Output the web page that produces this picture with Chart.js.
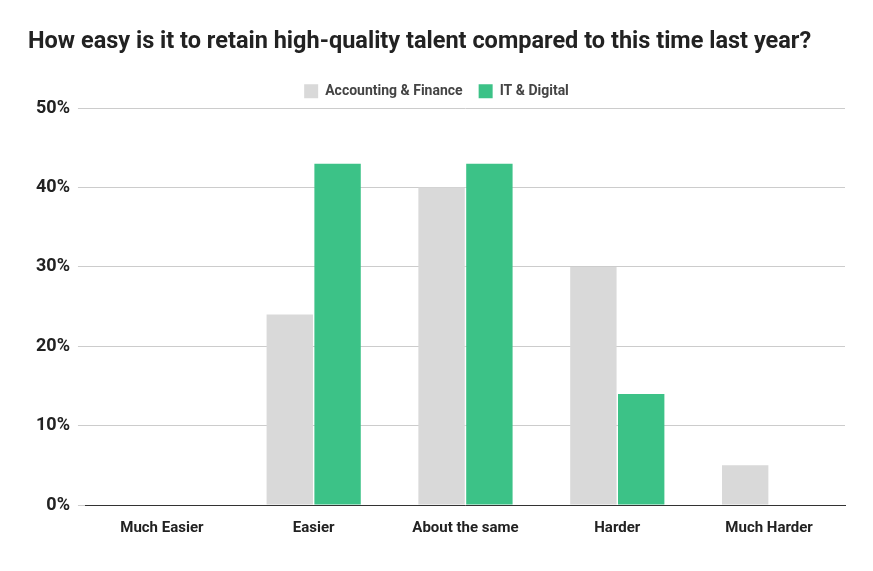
<!DOCTYPE html>
<html>
<head>
<meta charset="utf-8">
<script src="https://cdn.jsdelivr.net/npm/chart.js@4"></script>
<style>
  body { margin: 0; background: #fff; }
  #wrap { width: 873px; height: 571px; }
</style>
</head>
<body>
<div id="wrap"><canvas id="chart"></canvas></div>
<script>
// Values (percent)
var categories = ['Much Easier', 'Easier', 'About the same', 'Harder', 'Much Harder'];
var accountingFinance = [0, 24, 40, 30, 5];
var itDigital = [0, 43, 43, 14, 0];
var tickLabels = ['0%', '10%', '20%', '30%', '40%', '50%'];

Chart.defaults.font.family = 'Roboto';
Chart.defaults.font.weight = 'bold';
Chart.defaults.color = '#222';

var ctx = document.getElementById('chart').getContext('2d');
new Chart(ctx, {
    type: 'bar',
    data: {
        labels: categories,
        datasets: [{
            label: 'Accounting & Finance',
            data: accountingFinance,
            backgroundColor: '#d9d9d9'
        }, {
            label: 'IT & Digital',
            data: itDigital,
            backgroundColor: '#3cc287'
        }]
    },
    options: {
        responsive: true,
        maintainAspectRatio: false,
        animation: false,
        layout: { padding: { left: 28, right: 28, top: 28, bottom: 28 } },
        datasets: { bar: { categoryPercentage: 0.63, barPercentage: 0.97 } },
        plugins: {
            title: {
                display: true,
                text: 'How easy is it to retain high-quality talent compared to this time last year?',
                align: 'start',
                font: { size: 23.5, weight: 'bold' },
                color: '#222',
                padding: { top: 0, bottom: 12 }
            },
            legend: {
                labels: {
                    boxWidth: 14,
                    boxHeight: 14,
                    font: { size: 14, weight: 'bold' },
                    color: '#444',
                    padding: 16
                }
            },
            tooltip: { enabled: false }
        },
        scales: {
            x: {
                grid: { display: false },
                border: { color: '#333' },
                ticks: { font: { size: 15 }, color: '#222', padding: 6 }
            },
            y: {
                min: 0,
                max: 50,
                border: { display: false },
                grid: { color: '#ccc' },
                ticks: {
                    stepSize: 10,
                    padding: 8,
                    font: { size: 18 },
                    color: '#222',
                    callback: function(v, i) { return tickLabels[i]; }
                }
            }
        }
    }
});
</script>
</body>
</html>
